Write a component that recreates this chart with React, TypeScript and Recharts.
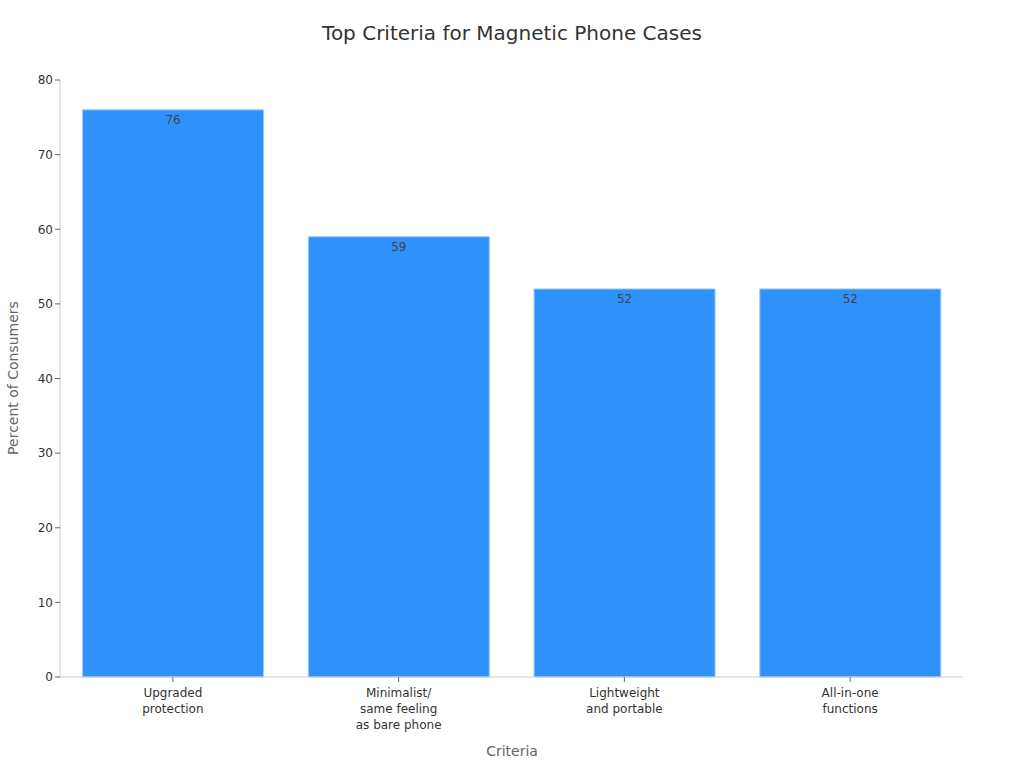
import React from "react";
import { BarChart, Bar, XAxis, YAxis, LabelList } from "recharts";

const criteria = [
  "Upgraded\nprotection",
  "Minimalist/\nsame feeling\nas bare phone",
  "Lightweight\nand portable",
  "All-in-one\nfunctions",
];
const percents = [76, 59, 52, 52];
const yTicks = [0, 10, 20, 30, 40, 50, 60, 70, 80];

const data = criteria.map((name, i) => ({ name, value: percents[i] }));

const FONT = "'DejaVu Sans', sans-serif";

const CategoryTick = ({ x, y, payload }: any) => {
  const lines = String(payload.value).split("\n");
  return (
    <text x={x} y={y + 4} textAnchor="middle" fill="#333" fontSize={12} fontFamily={FONT}>
      {lines.map((line, i) => (
        <tspan key={i} x={x} dy={i === 0 ? "0.71em" : 16}>
          {line}
        </tspan>
      ))}
    </text>
  );
};

export default function App() {
  return (
    <div style={{ position: "absolute", left: 0, top: 0, width: 1024, height: 768, background: "#fff", fontFamily: FONT }}>
      <div
        style={{
          position: "absolute",
          top: 21,
          left: 0,
          width: 1024,
          textAlign: "center",
          fontSize: 20,
          color: "#333",
        }}
      >
        Top Criteria for Magnetic Phone Cases
      </div>
      <BarChart
        width={1024}
        height={768}
        data={data}
        margin={{ top: 80, right: 61, bottom: 0, left: 0 }}
        barCategoryGap="10%"
      >
        <XAxis
          dataKey="name"
          height={91}
          interval={0}
          tick={<CategoryTick />}
          tickLine={{ stroke: "#666" }}
          tickSize={5}
          axisLine={{ stroke: "#ccc" }}
          label={{
            content: () => (
              <text x={512} y={751} textAnchor="middle" dominantBaseline="central" fill="#666" fontSize={14} fontFamily={FONT}>
                Criteria
              </text>
            ),
          }}
        />
        <YAxis
          width={60}
          domain={[0, 80]}
          ticks={yTicks}
          tick={{ fill: "#333", fontSize: 12, fontFamily: FONT }}
          tickLine={{ stroke: "#666" }}
          tickSize={5}
          axisLine={{ stroke: "#ccc" }}
          label={{
            content: () => (
              <text
                x={13}
                y={378}
                transform="rotate(-90, 13, 378)"
                textAnchor="middle"
                dominantBaseline="central"
                fill="#666"
                fontSize={14}
                fontFamily={FONT}
              >
                Percent of Consumers
              </text>
            ),
          }}
        />
        <Bar dataKey="value" fill="#2f92fa" stroke="#9ccaf8" strokeWidth={1} isAnimationActive={false}>
          <LabelList dataKey="value" position="insideTop" offset={6} fill="#444" fontSize={12} fontFamily={FONT} />
        </Bar>
      </BarChart>
    </div>
  );
}
